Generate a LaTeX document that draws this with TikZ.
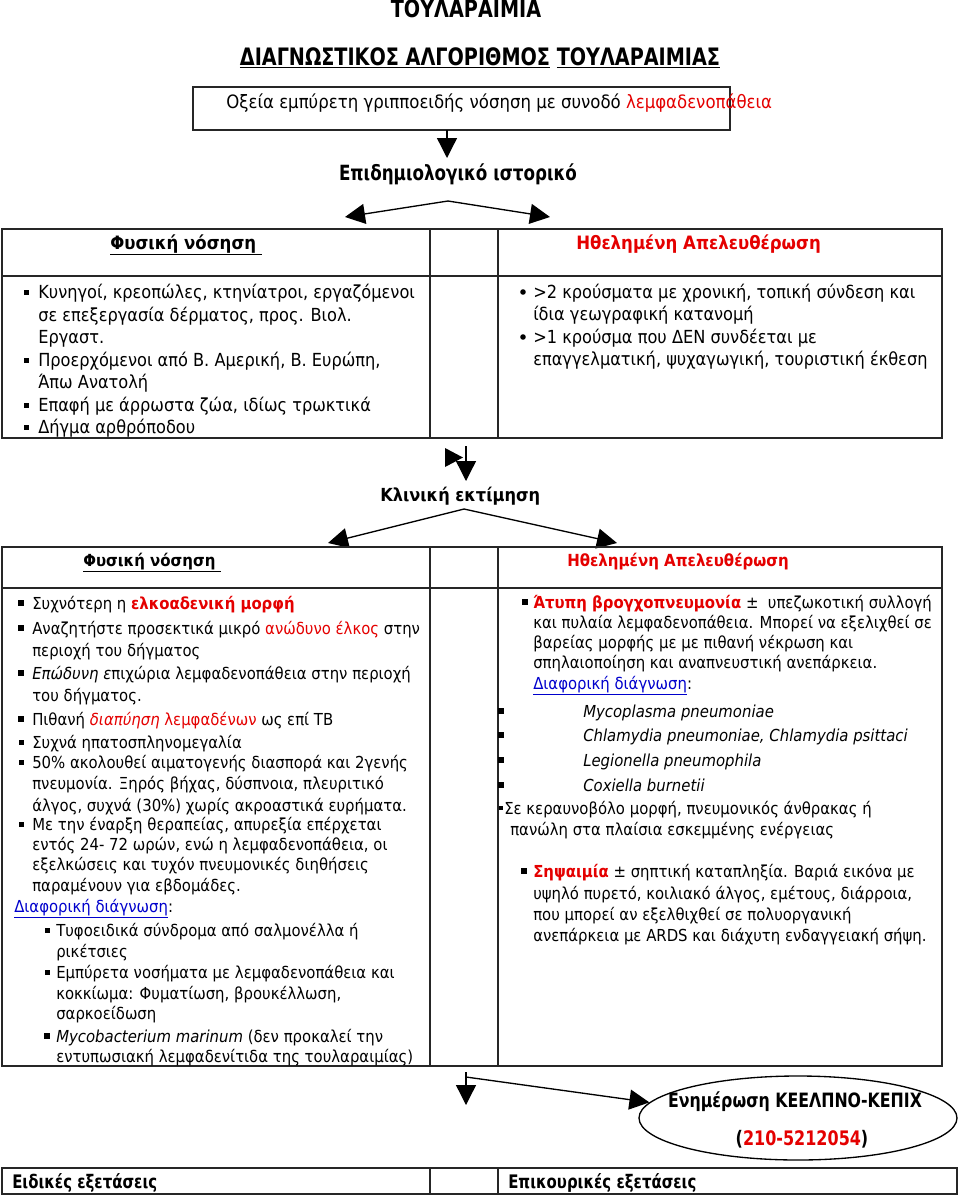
\documentclass[tikz,border=0pt]{standalone}
\usepackage{fontspec}
\setmainfont{DejaVu Sans}[FakeStretch=0.9]
\newfontfamily\condf{DejaVu Sans}[FakeStretch=0.8]
\usetikzlibrary{arrows.meta,shapes.geometric}
\definecolor{rd}{RGB}{228,0,0}
\definecolor{lk}{RGB}{0,0,204}
\newcommand\rb[1]{\textcolor{rd}{\bfseries #1}}
\newcommand\rr[1]{\textcolor{rd}{#1}}
\newcommand\lnk{\textcolor{lk}{\underline{Διαφορική διάγνωση}}:}
\newcommand\sqbul[3]{\fill (#1,#2) ++(-#3/2,-#3/2) rectangle ++(#3,#3);}
\begin{document}
\begin{tikzpicture}[x=0.75pt,y=-0.75pt,
  tbl/.style={line width=1.3pt, draw=black!85},
  arr/.style={line width=1pt,-{Triangle[length=15pt,width=15pt]}},
  t0/.style={anchor=base west, inner sep=0, font=\fontsize{13.8}{16}\selectfont},
  t1/.style={anchor=base west, inner sep=0, font=\fontsize{13.5}{16}\selectfont},
  t2/.style={anchor=base west, inner sep=0, font=\fontsize{12.4}{15}\selectfont},
  hd1/.style={anchor=base west, inner sep=0, font=\fontsize{13.8}{16}\selectfont\bfseries},
  hd2/.style={anchor=base west, inner sep=0, font=\fontsize{12.5}{15}\selectfont\bfseries},
  cnd/.style={anchor=base, inner sep=0, font=\condf\bfseries\fontsize{18}{20}\selectfont},
  cnds/.style={anchor=base, inner sep=0, font=\condf\bfseries\fontsize{15.7}{18}\selectfont},
  cndb/.style={anchor=base west, inner sep=0, font=\condf\bfseries\fontsize{14}{16}\selectfont},
]
\useasboundingbox (0,0) rectangle (960,1196);

% titles
\node[cnd] (title) at (466,17) {ΤΟΥΛΑΡΑΙΜΙΑ};
\node[cnd] (subtitle) at (480,65) {\underline{ΔΙΑΓΝΩΣΤΙΚΟΣ ΑΛΓΟΡΙΘΜΟΣ} \underline{ΤΟΥΛΑΡΑΙΜΙΑΣ}};

% first box
\node[tbl, draw, rectangle, minimum width=402.75pt, minimum height=32.25pt, inner sep=0] (box1) at (461.5,108.5) {};
\node[t0] (box1t) at (226,108) {Οξεία εμπύρετη γριπποειδής νόσηση με συνοδό \rr{λεμφαδενοπάθεια}};
\coordinate (a1s) at (447,130);
\coordinate (a1e) at (447,158);
\draw[arr] (a1s) -- (a1e);

\node[cnds] (epid) at (458,180) {Επιδημιολογικό ιστορικό};
\coordinate (ap1) at (448,201);
\coordinate (ap1l) at (345,217);
\coordinate (ap1r) at (550,217);
\draw[arr] (ap1) -- (ap1l);
\draw[arr] (ap1) -- (ap1r);

% table 1
\draw[tbl] (2,229) rectangle (942,438);
\draw[tbl] (2,276) -- (942,276);
\draw[tbl] (430,229) -- (430,438);
\draw[tbl] (498,229) -- (498,438);
\node[hd1] (h1l) at (110,249) {\underline{Φυσική νόσηση~}};
\node[hd1, text=rd] (h1r) at (576,249) {Ηθελημένη Απελευθέρωση};

\sqbul{26}{292}{5}
\sqbul{26}{360}{5}
\sqbul{26}{405}{5}
\sqbul{26}{427}{5}
\node[t1] (l1) at (38,298) {Κυνηγοί, κρεοπώλες, κτηνίατροι, εργαζόμενοι};
\node[t1] (l2) at (38,321) {σε επεξεργασία δέρματος, προς. Βιολ.};
\node[t1] (l3) at (38,343) {Εργαστ.};
\node[t1] (l4) at (38,366) {Προερχόμενοι από Β. Αμερική, Β. Ευρώπη,};
\node[t1] (l5) at (38,388) {Άπω Ανατολή};
\node[t1] (l6) at (38,411) {Επαφή με άρρωστα ζώα, ιδίως τρωκτικά};
\node[t1] (l7) at (38,433) {Δήγμα αρθρόποδου};

\fill (523,292) circle[radius=2.8];
\fill (523,337) circle[radius=2.8];
\node[t1] (r1) at (533,298) {>2 κρούσματα με χρονική, τοπική σύνδεση και};
\node[t1] (r2) at (533,320) {ίδια γεωγραφική κατανομή};
\node[t1] (r3) at (533,343) {>1 κρούσμα που ΔΕΝ συνδέεται με};
\node[t1] (r4) at (533,365) {επαγγελματική, ψυχαγωγική, τουριστική έκθεση};

% middle arrows
\fill (445,448) -- (463,457.5) -- (445,467) -- cycle;
\coordinate (a2s) at (466,446);
\coordinate (a2e) at (466,481);
\draw[arr] (a2s) -- (a2e);
\node[hd1, font=\fontsize{13.5}{16}\selectfont\bfseries] (klin) at (380,501) {Κλινική εκτίμηση};
\coordinate (ap2) at (464,509);
\coordinate (ap2l) at (328,543);
\coordinate (ap2r) at (617,543);
\draw[arr] (ap2) -- (ap2l);
\draw[arr] (ap2) -- (ap2r);

% table 2
\draw[tbl] (2,547) rectangle (942,1066);
\draw[tbl] (2,588) -- (942,588);
\draw[tbl] (430,547) -- (430,1066);
\draw[tbl] (498,547) -- (498,1066);
\node[hd2] (h2l) at (83,566) {\underline{Φυσική νόσηση~}};
\node[hd2, text=rd] (h2r) at (567,566) {Ηθελημένη Απελευθέρωση};

\sqbul{21}{603}{6}
\sqbul{21}{628}{6}
\sqbul{21}{673}{6}
\sqbul{21}{719}{6}
\sqbul{21}{742}{5}
\sqbul{21}{762}{5}
\sqbul{21}{824}{5}
\sqbul{47}{930}{5}
\sqbul{47}{972}{5}
\sqbul{47}{1036}{6}
\node[t2] (m1) at (32,609) {Συχνότερη η \rb{ελκοαδενική μορφή}};
\node[t2] (m2) at (32,634) {Αναζητήστε προσεκτικά μικρό \rr{ανώδυνο έλκος} στην};
\node[t2] (m3) at (32,656) {περιοχή του δήγματος};
\node[t2] (m4) at (32,679) {\textit{Επώδυνη ε}πιχώρια λεμφαδενοπάθεια στην περιοχή};
\node[t2] (m5) at (32,701) {του δήγματος.};
\node[t2] (m6) at (32,725) {Πιθανή \rr{\textit{διαπύηση} λεμφαδένων} ως επί ΤΒ};
\node[t2] (m7) at (32,748) {Συχνά ηπατοσπληνομεγαλία};
\node[t2] (m8) at (32,768) {50\% ακολουθεί αιματογενής διασπορά και 2γενής};
\node[t2] (m9) at (32,789) {πνευμονία. Ξηρός βήχας, δύσπνοια, πλευριτικό};
\node[t2] (m10) at (32,811) {άλγος, συχνά (30\%) χωρίς ακροαστικά ευρήματα.};
\node[t2] (m11) at (32,830) {Με την έναρξη θεραπείας, απυρεξία επέρχεται};
\node[t2] (m12) at (32,850) {εντός 24- 72 ωρών, ενώ η λεμφαδενοπάθεια, οι};
\node[t2] (m13) at (32,870) {εξελκώσεις και τυχόν πνευμονικές διηθήσεις};
\node[t2] (m14) at (32,891) {παραμένουν για εβδομάδες.};
\node[t2] (m15) at (14,912) {\lnk};
\node[t2] (m16) at (56,936) {Τυφοειδικά σύνδρομα από σαλμονέλλα ή};
\node[t2] (m17) at (56,957) {ρικέτσιες};
\node[t2] (m18) at (56,978) {Εμπύρετα νοσήματα με λεμφαδενοπάθεια και};
\node[t2] (m19) at (56,999) {κοκκίωμα: Φυματίωση, βρουκέλλωση,};
\node[t2] (m20) at (56,1019) {σαρκοείδωση};
\node[t2] (m21) at (56,1042) {\textit{Mycobacterium marinum} (δεν προκαλεί την};
\node[t2] (m22) at (56,1062) {εντυπωσιακή λεμφαδενίτιδα της τουλαραιμίας)};

\sqbul{525}{602}{6}
\sqbul{501}{711}{6}
\sqbul{501}{735}{6}
\sqbul{501}{760}{6}
\sqbul{501}{785}{6}
\sqbul{501}{808}{4}
\sqbul{524}{871}{6}
\node[t2] (n1) at (533,608) {\rb{Άτυπη βρογχοπνευμονία} ±\ \ υπεζωκοτική συλλογή};
\node[t2] (n2) at (533,628) {και πυλαία λεμφαδενοπάθεια. Μπορεί να εξελιχθεί σε};
\node[t2] (n3) at (533,648) {βαρείας μορφής με με πιθανή νέκρωση και};
\node[t2] (n4) at (533,668) {σπηλαιοποίηση και αναπνευστική ανεπάρκεια.};
\node[t2] (n5) at (533,689) {\lnk};
\node[t2] (n6) at (583,717) {\textit{Mycoplasma pneumoniae}};
\node[t2] (n7) at (583,741) {\textit{Chlamydia pneumoniae, Chlamydia psittaci}};
\node[t2] (n8) at (583,766) {\textit{Legionella pneumophila}};
\node[t2] (n9) at (583,791) {\textit{Coxiella burnetii}};
\node[t2] (n10) at (504,814) {Σε κεραυνοβόλο μορφή, πνευμονικός άνθρακας ή};
\node[t2] (n11) at (510,835) {πανώλη στα πλαίσια εσκεμμένης ενέργειας};
\node[t2] (n12) at (533,877) {\rb{Σηψαιμία} ± σηπτική καταπληξία. Βαριά εικόνα με};
\node[t2] (n13) at (533,899) {υψηλό πυρετό, κοιλιακό άλγος, εμέτους, διάρροια,};
\node[t2] (n14) at (533,920) {που μπορεί αν εξελθιχθεί σε πολυοργανική};
\node[t2] (n15) at (533,941) {ανεπάρκεια με ARDS και διάχυτη ενδαγγειακή σήψη.};

% bottom arrows and ellipse
\node[draw, line width=1pt, ellipse, minimum width=238.5pt, minimum height=63pt, inner sep=0] (ell) at (798,1118) {};
\node[cnds, font=\condf\bfseries\fontsize{14.8}{17}\selectfont] (ellt1) at (795,1107) {Ενημέρωση ΚΕΕΛΠΝΟ-ΚΕΠΙΧ};
\node[cnds, font=\condf\bfseries\fontsize{15}{17}\selectfont] (ellt2) at (802,1145) {(\textcolor{rd}{210-5212054})};
\coordinate (a3s) at (466,1072);
\coordinate (a3e) at (466,1105);
\coordinate (a3k) at (466,1077);
\draw[arr] (a3s) -- (a3e);
\draw[arr] (a3k) -- (ell.174);

% table 3
\draw[tbl] (2,1168) rectangle (957,1194);
\draw[tbl] (430,1168) -- (430,1194);
\draw[tbl] (498,1168) -- (498,1194);
\node[cndb] (spec) at (12,1188) {Ειδικές εξετάσεις};
\node[cndb] (aux) at (508,1188) {Επικουρικές εξετάσεις};
\end{tikzpicture}
\end{document}
